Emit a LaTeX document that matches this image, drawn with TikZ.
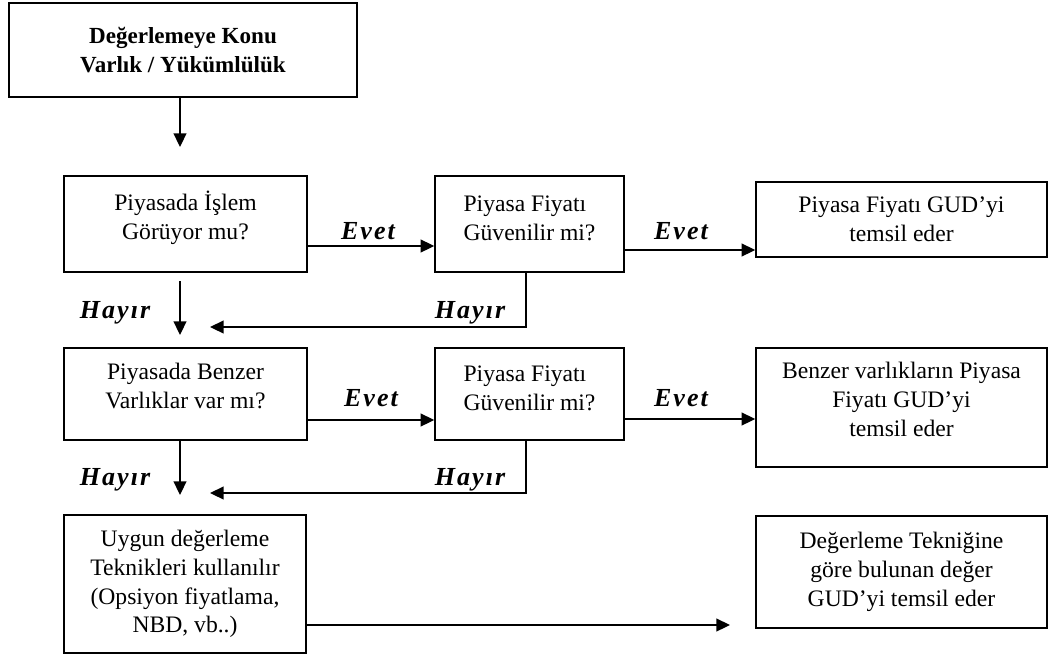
\documentclass[tikz,border=0pt]{standalone}
\usepackage{fontspec}
\setmainfont{Liberation Serif}
\newfontfamily\etiketfont[LetterSpace=8]{Liberation Serif}
\usetikzlibrary{arrows.meta}

\begin{document}
\begin{tikzpicture}[x=0.025cm,y=-0.025cm,
  kutu/.style={draw,line width=1pt,inner sep=0pt,align=center,font=\fontsize{16.8}{20.5}\selectfont},
  yukari/.style={text depth=12pt},
  ok/.style={line width=1pt,-{Triangle[length=0.34cm,width=0.32cm]}},
  etiket/.style={inner sep=0pt,font=\etiketfont\bfseries\itshape\fontsize{18.5}{20}\selectfont}]
\useasboundingbox (0,0) rectangle (1050,659);
% kutular
\node[kutu,minimum width=8.7cm,minimum height=2.35cm,font=\bfseries\fontsize{16.4}{20}\selectfont](konu) at (183,50){Değerlemeye Konu\\Varlık / Yükümlülük};
\node[kutu,yukari,minimum width=6.075cm,minimum height=2.4cm](islem) at (185.5,224){Piyasada İşlem\\Görüyor mu?};
\node[kutu,text depth=8pt,align=left,minimum width=4.725cm,minimum height=2.4cm](guven1) at (529.5,224){Piyasa Fiyatı\\Güvenilir mi?};
\node[kutu,minimum width=7.275cm,minimum height=1.875cm](temsil1) at (901.5,219.5){Piyasa Fiyatı GUD’yi\\temsil eder};
\node[kutu,yukari,minimum width=6.075cm,minimum height=2.3cm](benzer) at (185.5,394){Piyasada Benzer\\Varlıklar var mı?};
\node[kutu,text depth=8pt,align=left,minimum width=4.725cm,minimum height=2.3cm](guven2) at (529.5,394){Piyasa Fiyatı\\Güvenilir mi?};
\node[kutu,yukari,minimum width=7.275cm,minimum height=2.975cm](temsil2) at (901.5,407.5){Benzer varlıkların Piyasa\\Fiyatı GUD’yi\\temsil eder};
\node[kutu,minimum width=6.05cm,minimum height=3.45cm](teknik) at (185,584){Uygun değerleme\\Teknikleri kullanılır\\(Opsiyon fiyatlama,\\NBD, vb..)};
\node[kutu,minimum width=7.275cm,minimum height=2.8cm](temsil3) at (901.5,572){Değerleme Tekniğine\\göre bulunan değer\\GUD’yi temsil eder};
% yardimci noktalar
\coordinate (a1) at (180,147);
\coordinate (e1) at (0,246);
\coordinate (e2) at (0,250);
\coordinate (e3) at (0,420);
\coordinate (e4) at (0,419);
\coordinate (s1) at (730,625);
\coordinate (h1) at (180,281);
\coordinate (h1u) at (180,335);
\coordinate (h2) at (180,495);
\coordinate (d1) at (526,327);
\coordinate (g1) at (210,327);
\coordinate (d2) at (526,493);
\coordinate (g2) at (210,493);
% oklar
\draw[ok](konu.south -| a1)--(a1);
\draw[ok](islem.east |- e1)--(guven1.west |- e1);
\draw[ok](guven1.east |- e2)--(temsil1.west |- e2);
\draw[ok](benzer.east |- e3)--(guven2.west |- e3);
\draw[ok](guven2.east |- e4)--(temsil2.west |- e4);
\draw[ok](h1)--(h1u);
\draw[ok](benzer.south -| h2)--(h2);
\draw[ok](guven1.south -| d1)--(d1)--(g1);
\draw[ok](guven2.south -| d2)--(d2)--(g2);
\draw[ok](teknik.east |- s1)--(s1);
% etiketler
\node[etiket](evet1) at (368,231){Evet};
\node[etiket](evet2) at (681,231){Evet};
\node[etiket](evet3) at (371,398){Evet};
\node[etiket](evet4) at (681,398){Evet};
\node[etiket](hayir1) at (115,313){Hayır};
\node[etiket](hayir2) at (470,313){Hayır};
\node[etiket](hayir3) at (115,480){Hayır};
\node[etiket](hayir4) at (470,480){Hayır};
\end{tikzpicture}
\end{document}
